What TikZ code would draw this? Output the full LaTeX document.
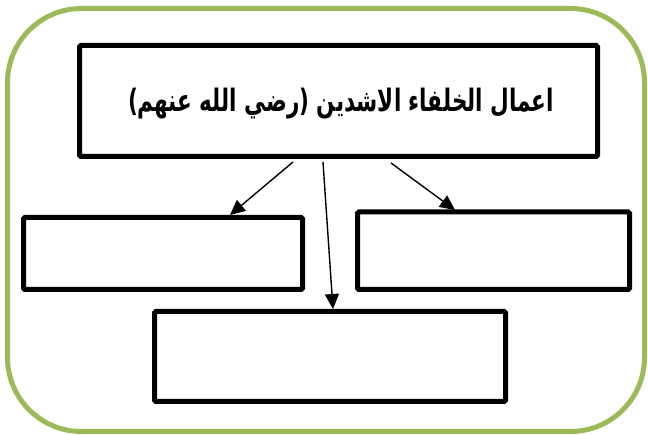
\documentclass[tikz,border=0pt]{standalone}
\usepackage{fontspec}
\TeXXeTstate=1
\newfontfamily\arabicfont[Script=Arabic]{DejaVu Sans}
\usetikzlibrary{arrows.meta}
\definecolor{framegreen}{HTML}{9BBB59}
\begin{document}
\begin{tikzpicture}[x=1pt,y=-1pt,
  frame/.style={draw=framegreen,line width=5pt,rounded corners=74pt},
  box/.style={draw=black,line width=5pt,rounded corners=1.5pt,inner sep=0pt,outer sep=0pt},
  conn/.style={-{Triangle[length=15pt,width=14pt]},line width=1.4pt}]
\useasboundingbox (0,0) rectangle (648,435);
\draw[frame] (7.5,8.5) rectangle (644.5,431.5);
\draw[box] (79.5,45.5) rectangle (597.5,156.5);
\node[inner sep=0pt] (title) at (341,104)
  {\resizebox*{426pt}{31pt}{\arabicfont\bfseries\beginR اعمال الخلفاء الاشدين (رضي الله عنهم)\endR}};
\draw[box] (23.5,217.5) rectangle (302.5,289.5);
\draw[box] (357.5,212) rectangle (629.5,289.5);
\draw[box] (154.5,311.5) rectangle (505.5,401.5);
\coordinate (s1) at (293,162);
\coordinate (s2) at (323,162);
\coordinate (s3) at (391,163);
\coordinate (e1) at (230,215);
\coordinate (e2) at (333,309);
\coordinate (e3) at (455,210);
\draw[conn] (s1) -- (e1);
\draw[conn] (s2) -- (e2);
\draw[conn] (s3) -- (e3);
\end{tikzpicture}
\end{document}
